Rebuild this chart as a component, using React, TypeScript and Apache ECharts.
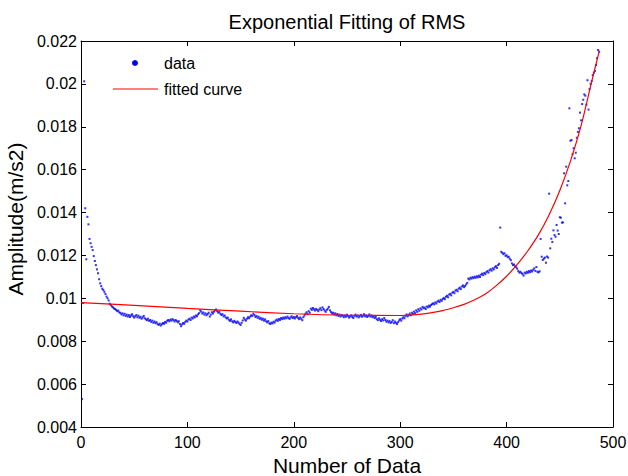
import React, { useEffect, useRef } from "react";
import * as echarts from "echarts";

const titleText = "Exponential Fitting of RMS";
const xName = "Number of Data";
const yName = "Amplitude(m/s2)";
const legendNames = ["data", "fitted curve"];

// measured RMS amplitude, sample index 1..487
const rmsValues: number[] = [
  0.0053, 0.00978, 0.02012, 0.0142, 0.01182, 0.0138, 0.01345, 0.01277, 0.01257, 0.0124,
  0.01225, 0.01197, 0.01174, 0.01155, 0.01135, 0.01117, 0.01089, 0.0107, 0.01057, 0.01045,
  0.01039, 0.0103, 0.0102, 0.01008, 0.01, 0.0099, 0.00975, 0.00969, 0.00962, 0.00958,
  0.00953, 0.0095, 0.00946, 0.0094, 0.00943, 0.00935, 0.00932, 0.00925, 0.0093, 0.00921,
  0.00928, 0.00918, 0.00924, 0.00915, 0.00922, 0.00913, 0.0092, 0.00926, 0.00917, 0.0091,
  0.00916, 0.00922, 0.00912, 0.00919, 0.00909, 0.00914, 0.00905, 0.00911, 0.00918, 0.00907,
  0.00902, 0.00898, 0.00905, 0.00895, 0.00899, 0.0089, 0.00896, 0.00886, 0.00892, 0.00884,
  0.00889, 0.0088, 0.00876, 0.00882, 0.00873, 0.00879, 0.00885, 0.00881, 0.0089, 0.00886,
  0.00895, 0.00899, 0.00893, 0.00901, 0.00896, 0.00903, 0.00898, 0.00892, 0.00899, 0.00894,
  0.00888, 0.00893, 0.0088, 0.0087, 0.00878, 0.00885, 0.00881, 0.0089, 0.00896, 0.00892,
  0.00901, 0.00905, 0.00899, 0.0091, 0.00906, 0.00915, 0.00911, 0.0092, 0.00916, 0.00925,
  0.00931, 0.00944, 0.00938, 0.00929, 0.00934, 0.00924, 0.0093, 0.00921, 0.00927, 0.00933,
  0.00915, 0.00924, 0.00935, 0.00929, 0.00938, 0.00944, 0.00948, 0.0094, 0.00933, 0.00937,
  0.00928, 0.00922, 0.00926, 0.00916, 0.0092, 0.00911, 0.00906, 0.0091, 0.009, 0.00895,
  0.00902, 0.00893, 0.00888, 0.00895, 0.0089, 0.00885, 0.00892, 0.00887, 0.00881, 0.00876,
  0.00886, 0.00897, 0.00909, 0.00901, 0.00896, 0.00905, 0.00912, 0.00907, 0.00915, 0.00921,
  0.00918, 0.00928, 0.00922, 0.00913, 0.00918, 0.00909, 0.00914, 0.00904, 0.00909, 0.009,
  0.00905, 0.00896, 0.00902, 0.00893, 0.00888, 0.00894, 0.00884, 0.0088, 0.00887, 0.00883,
  0.00891, 0.00887, 0.00896, 0.00901, 0.00895, 0.00904, 0.00899, 0.00908, 0.00903, 0.0091,
  0.00905, 0.00912, 0.00907, 0.00915, 0.00909, 0.00904, 0.00911, 0.00916, 0.00908, 0.00913,
  0.00906, 0.00912, 0.00917, 0.00909, 0.00903, 0.00911, 0.00905, 0.00898, 0.00912, 0.0092,
  0.00928, 0.00935, 0.00926, 0.0094, 0.00933, 0.00952, 0.00946, 0.00955, 0.00949, 0.00943,
  0.00951, 0.00946, 0.0094, 0.00948, 0.00954, 0.00945, 0.00958, 0.0095, 0.00943, 0.00937,
  0.00946, 0.00952, 0.0096, 0.00944, 0.00936, 0.00929, 0.00933, 0.00925, 0.0093, 0.00921,
  0.00927, 0.00918, 0.00924, 0.00915, 0.00922, 0.00919, 0.00912, 0.0092, 0.00914, 0.00923,
  0.00917, 0.0091, 0.00916, 0.00921, 0.00913, 0.00908, 0.00918, 0.00924, 0.00915, 0.0092,
  0.00911, 0.00917, 0.00923, 0.00914, 0.00919, 0.00926, 0.00916, 0.00921, 0.00913, 0.00918,
  0.00925, 0.00915, 0.0092, 0.00912, 0.00917, 0.00908, 0.00913, 0.00903, 0.00898, 0.00907,
  0.009, 0.00894, 0.00903, 0.00897, 0.00908, 0.00899, 0.00891, 0.00896, 0.00888, 0.00894,
  0.00885, 0.0089, 0.00898, 0.00884, 0.00892, 0.00886, 0.0088, 0.00889, 0.00897, 0.00903,
  0.00896, 0.00906, 0.00912, 0.00907, 0.00918, 0.00925, 0.00916, 0.00922, 0.00929, 0.00921,
  0.00933, 0.00927, 0.00938, 0.00931, 0.00944, 0.00937, 0.00949, 0.00942, 0.00953, 0.00948,
  0.0096, 0.00954, 0.00957, 0.0095, 0.00962, 0.00958, 0.00966, 0.00961, 0.00969, 0.00973,
  0.00977, 0.00972, 0.00981, 0.00976, 0.00985, 0.00989, 0.00983, 0.00993, 0.00988, 0.00997,
  0.01002, 0.00996, 0.01007, 0.01012, 0.01005, 0.01017, 0.01021, 0.01014, 0.01026, 0.0103,
  0.01024, 0.01036, 0.0104, 0.01033, 0.01045, 0.0105, 0.01043, 0.01055, 0.0106, 0.01052,
  0.01058, 0.01065, 0.01072, 0.01092, 0.01088, 0.01096, 0.01092, 0.01099, 0.01094, 0.01101,
  0.01096, 0.01103, 0.01098, 0.01106, 0.011, 0.0111, 0.01115, 0.01108, 0.01118, 0.01113,
  0.01122, 0.01127, 0.0112, 0.01131, 0.01136, 0.01129, 0.0114, 0.01135, 0.01145, 0.0115,
  0.01142, 0.01155, 0.01161, 0.0133, 0.01217, 0.01212, 0.01206, 0.0121, 0.01198, 0.01201,
  0.01192, 0.01194, 0.01185, 0.01178, 0.01163, 0.01155, 0.01158, 0.0115, 0.01145, 0.01138,
  0.01127, 0.0112, 0.01124, 0.01118, 0.01113, 0.01106, 0.0112, 0.01116, 0.01124, 0.01119,
  0.01127, 0.01122, 0.0113, 0.01125, 0.01133, 0.0114, 0.01128, 0.01146, 0.01124, 0.01121,
  0.01126, 0.01277, 0.01194, 0.01179, 0.01185, 0.0119, 0.01166, 0.01195, 0.0119, 0.01488,
  0.01233, 0.01278, 0.01263, 0.01317, 0.01295, 0.01287, 0.01342, 0.01316, 0.013, 0.01378,
  0.01376, 0.01353, 0.01354, 0.01583, 0.01443, 0.01614, 0.01527, 0.01547, 0.01886, 0.01735,
  0.01738, 0.01672, 0.017, 0.01653, 0.01679, 0.01749, 0.01776, 0.01793, 0.01866, 0.0183,
  0.01906, 0.01926, 0.01951, 0.01945, 0.01903, 0.02017, 0.0188, 0.01976, 0.02, 0.02013,
  0.02041, 0.02052, 0.0206, 0.02088, 0.0212, 0.02158, 0.0215,
];

// fitted exponential curve
const fitX: number[] = [
  0, 50, 100, 150, 200, 250, 300, 320, 340, 350, 360, 370, 380, 390, 400, 410, 420, 430, 440, 450, 460, 470, 480, 487,
];
const fitY: number[] = [
  0.0098, 0.00967, 0.00953, 0.0094, 0.00928, 0.00921, 0.0092, 0.00926, 0.00943, 0.00956, 0.00972, 0.00993,
  0.0102, 0.01058, 0.01103, 0.01158, 0.01222, 0.01297, 0.0139, 0.01503, 0.0164, 0.01805, 0.02012, 0.0215,
];

const xTicks = { min: 0, max: 500, interval: 100 };
const yTicks = { min: 0.004, max: 0.022, interval: 0.002 };

const FONT = "'Liberation Sans', Arial, Helvetica, sans-serif";

export default function App() {
  const ref = useRef<HTMLDivElement>(null);
  useEffect(() => {
    if (!ref.current) return;
    const chart = echarts.init(ref.current, undefined, { renderer: "svg" });
    const scatterData = rmsValues.map((v, i) => [i + 1, v]);
    const fitData = fitX.map((x, i) => [x, fitY[i]]);
    const axisLine = { show: true, onZero: false, lineStyle: { color: "#000", width: 1 } };
    const tick = { show: true, inside: true, length: 5, lineStyle: { color: "#000", width: 1 } };
    const fmtY = (v: number) => String(parseFloat(v.toFixed(4)));
    chart.setOption({
      animation: false,
      backgroundColor: "#fff",
      title: {
        text: titleText,
        left: 347,
        textAlign: "center",
        top: 12,
        padding: 0,
        textStyle: { fontFamily: FONT, fontSize: 20, fontWeight: "normal", color: "#000", lineHeight: 20 },
      },
      legend: { show: false, data: legendNames },
      graphic: [
        { type: "circle", shape: { cx: 135, cy: 63, r: 3 }, style: { fill: "#0000ff" }, silent: true },
        { type: "line", shape: { x1: 113, y1: 89, x2: 158, y2: 89 }, style: { stroke: "#ff0000", lineWidth: 1.2 }, silent: true },
        {
          type: "text",
          x: 164,
          y: 63,
          style: { text: legendNames[0], fontFamily: FONT, fontSize: 16, fill: "#000", verticalAlign: "middle" },
          silent: true,
        },
        {
          type: "text",
          x: 164,
          y: 89,
          style: { text: legendNames[1], fontFamily: FONT, fontSize: 16, fill: "#000", verticalAlign: "middle" },
          silent: true,
        },
      ],
      grid: { left: 81, right: 15, top: 41, bottom: 49, outerBoundsMode: "none" },
      xAxis: [
        {
          type: "value",
          position: "bottom",
          ...xTicks,
          name: xName,
          nameLocation: "middle",
          nameGap: 26,
          nameTextStyle: { fontFamily: FONT, fontSize: 21, color: "#000", lineHeight: 21 },
          axisLine,
          axisTick: tick,
          axisLabel: { fontFamily: FONT, fontSize: 16, color: "#000", margin: 7, lineHeight: 16 },
          splitLine: { show: false },
        },
        {
          type: "value",
          position: "top",
          ...xTicks,
          axisLine,
          axisTick: tick,
          axisLabel: { show: false },
          splitLine: { show: false },
        },
      ],
      yAxis: [
        {
          type: "value",
          position: "left",
          ...yTicks,
          name: yName,
          nameLocation: "middle",
          nameGap: 51,
          nameTextStyle: {
            fontFamily: FONT,
            fontSize: 21,
            color: "#000",
            lineHeight: 21,
            padding: [0, 0, 0, 30],
          },
          axisLine,
          axisTick: tick,
          axisLabel: { fontFamily: FONT, fontSize: 16, color: "#000", margin: 4, formatter: fmtY },
          splitLine: { show: false },
        },
        {
          type: "value",
          position: "right",
          ...yTicks,
          axisLine,
          axisTick: tick,
          axisLabel: { show: false },
          splitLine: { show: false },
        },
      ],
      series: [
        {
          name: legendNames[0],
          type: "scatter",
          xAxisIndex: 0,
          yAxisIndex: 0,
          data: scatterData,
          symbol: "rect",
          symbolSize: 2,
          itemStyle: { color: "#0000ff" },
          silent: true,
        },
        {
          name: legendNames[1],
          type: "line",
          xAxisIndex: 0,
          yAxisIndex: 0,
          data: fitData,
          symbol: "none",
          smooth: 0.3,
          lineStyle: { color: "#ff0000", width: 1.2 },
          itemStyle: { color: "#ff0000" },
          silent: true,
        },
      ],
    });
    return () => chart.dispose();
  }, []);
  return (
    <div
      ref={ref}
      style={{ position: "fixed", left: 0, top: 0, width: 628, height: 476, background: "#fff" }}
    />
  );
}
